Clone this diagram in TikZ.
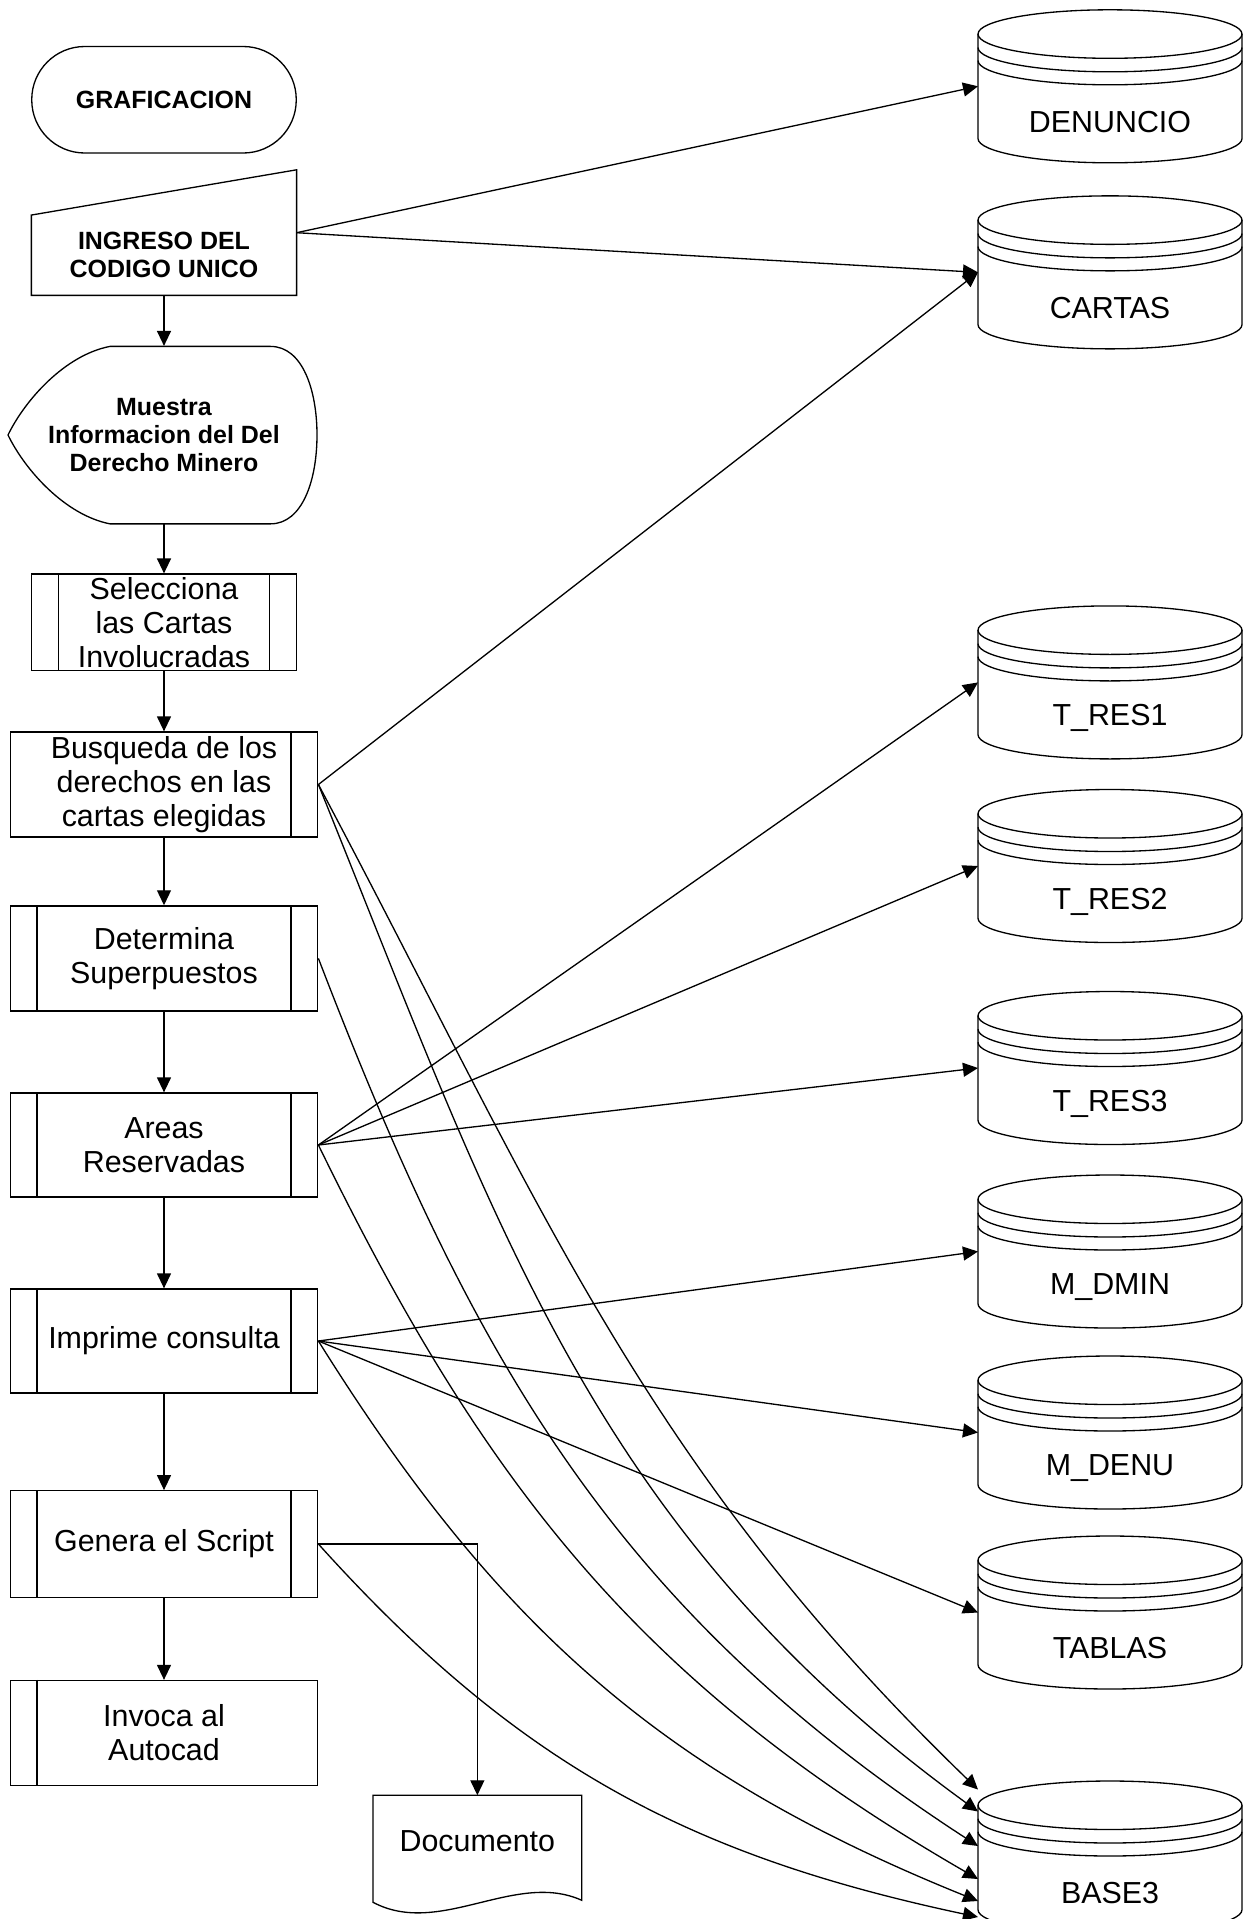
\documentclass[tikz,border=0pt]{standalone}
\usepackage{fontspec}
\setmainfont{Liberation Sans}
\usetikzlibrary{arrows.meta}

\newcommand{\letra}{\fontsize{17.3}{19.3}\selectfont}
\newcommand{\letrab}{\fontsize{14.2}{16}\selectfont\bfseries}

\tikzset{
  linea/.style={line width=0.75pt},
  flecha/.style={linea, -{Triangle[length=0.3cm, width=0.28cm]}},
  proceso/.style={draw, linea, minimum width=6.15cm, minimum height=2.1cm, align=center, font=\letra, inner sep=0pt},
  dbox/.style={minimum width=5.28cm, minimum height=3.06cm, anchor=north, inner sep=0pt, outer sep=0pt}
}

\newcommand{\basedatos}[4]{%
  \node[dbox] (#1) at (#2,#3) {};
  \draw[linea] ([yshift=-0.485cm]#1.north west) -- ([yshift=0.485cm]#1.south west)
    arc[start angle=180, end angle=360, x radius=2.64cm, y radius=0.485cm]
    -- ([yshift=-0.485cm]#1.north east);
  \draw[linea] ([yshift=-0.485cm]#1.north) ellipse[x radius=2.64cm, y radius=0.485cm];
  \draw[linea] ([yshift=-0.755cm]#1.north west) arc[start angle=180, end angle=360, x radius=2.64cm, y radius=0.485cm];
  \draw[linea] ([yshift=-1.015cm]#1.north west) arc[start angle=180, end angle=360, x radius=2.64cm, y radius=0.485cm];
  \node[font=\letra] (#1-t) at ([yshift=-2.24cm]#1.north) {#4};
}

\begin{document}
\begin{tikzpicture}
  \useasboundingbox (0,0) rectangle (24.9,-38.38);
  \clip (0,0) rectangle (24.9,-38.38);

  \node[draw, linea, rounded corners=1.06cm, minimum width=5.29cm, minimum height=2.13cm, font=\letrab] (graf) at (3.28,-1.995) {GRAFICACION};

  \node[minimum width=5.29cm, minimum height=1.592cm, align=center, font=\letrab, inner sep=0pt] (ing) at (3.28,-5.104) {INGRESO DEL\\CODIGO UNICO};
  \draw[linea] (ing.north west) -- ([yshift=0.905cm]ing.north east) -- (ing.south east) -- (ing.south west) -- cycle;

  \node[minimum width=6.17cm, minimum height=3.55cm, align=center, font=\letrab, inner sep=0pt] (mue) at (3.28,-8.70) {Muestra\\Informacion del Del\\Derecho Minero};
  \draw[linea] (2.2,-6.928) -- (5.41,-6.928) .. controls (6.05,-6.928) and (6.34,-7.8) .. (6.34,-8.70)
    .. controls (6.34,-9.6) and (6.05,-10.477) .. (5.41,-10.477) -- (2.2,-10.477)
    .. controls (1.3,-10.3) and (0.5,-9.4) .. (0.16,-8.70)
    .. controls (0.5,-8.0) and (1.3,-7.1) .. (2.2,-6.928) -- cycle;

  \node[proceso, minimum width=5.29cm, minimum height=1.934cm] (sel) at (3.28,-12.448) {Selecciona\\las Cartas\\Involucradas};
  \node[proceso] (bus) at (3.28,-15.69) {Busqueda de los\\derechos en las\\cartas elegidas};
  \node[proceso] (det) at (3.28,-19.168) {Determina\\Superpuestos};
  \node[proceso, minimum height=2.08cm] (are) at (3.28,-22.9) {Areas\\Reservadas};
  \node[proceso, minimum height=2.08cm] (imp) at (3.28,-26.82) {Imprime consulta};
  \node[proceso, minimum height=2.13cm] (gen) at (3.28,-30.88) {Genera el Script};
  \node[proceso] (inv) at (3.28,-34.66) {Invoca al\\Autocad};

  \foreach \n in {sel,det,are,imp,gen,inv}
    \draw[linea] ([xshift=0.55cm]\n.north west) -- ([xshift=0.55cm]\n.south west);
  \foreach \n in {sel,bus,det,are,imp,gen}
    \draw[linea] ([xshift=-0.55cm]\n.north east) -- ([xshift=-0.55cm]\n.south east);

  \node[minimum width=4.16cm, minimum height=1.816cm, font=\letra, inner sep=0pt] (doc) at (9.547,-36.82) {Documento};
  \draw[linea] (doc.north west) -- (doc.north east) -- ([yshift=-0.27cm]doc.south east)
    .. controls +(-1.33,0.6) and +(1.33,-0.71) .. ([yshift=-0.31cm]doc.south west) -- cycle;

  \basedatos{den}{22.2}{-0.196}{DENUNCIO}
  \basedatos{car}{22.2}{-3.917}{CARTAS}
  \basedatos{tr1}{22.2}{-12.118}{T\_RES1}
  \basedatos{tr2}{22.2}{-15.79}{T\_RES2}
  \basedatos{tr3}{22.2}{-19.83}{T\_RES3}
  \basedatos{mdm}{22.2}{-23.50}{M\_DMIN}
  \basedatos{mde}{22.2}{-27.12}{M\_DENU}
  \basedatos{tab}{22.2}{-30.72}{TABLAS}
  \basedatos{b3}{22.2}{-35.62}{BASE3}

  \draw[flecha] (ing.south) -- (mue.north);
  \draw[flecha] (mue.south) -- (sel.north);
  \draw[flecha] (sel.south) -- (bus.north);
  \draw[flecha] (bus.south) -- (det.north);
  \draw[flecha] (det.south) -- (are.north);
  \draw[flecha] (are.south) -- (imp.north);
  \draw[flecha] (imp.south) -- (gen.north);
  \draw[flecha] (gen.south) -- (inv.north);
  \draw[flecha] (gen.east) -| (doc.north);

  \draw[flecha] ([yshift=0.45cm]ing.east) -- (den.west);
  \draw[flecha] ([yshift=0.45cm]ing.east) -- (car.west);
  \draw[flecha] (bus.east) -- (car.west);
  \draw[flecha] (are.east) -- (tr1.west);
  \draw[flecha] (are.east) -- (tr2.west);
  \draw[flecha] (are.east) -- (tr3.west);
  \draw[flecha] (imp.east) -- (mdm.west);
  \draw[flecha] (imp.east) -- (mde.west);
  \draw[flecha] (imp.east) -- (tab.west);

  \draw[flecha] (bus.east) to[out=-62, in=136] ([yshift=-0.17cm]b3.north west);
  \draw[flecha] (bus.east) to[out=-68, in=144] ([yshift=-0.61cm]b3.north west);
  \draw[flecha] (det.east) to[out=-69, in=147] ([yshift=-1.30cm]b3.north west);
  \draw[flecha] (are.east) to[out=-64, in=150] ([yshift=-1.96cm]b3.north west);
  \draw[flecha] (imp.east) to[out=-58, in=158] ([yshift=-2.40cm]b3.north west);
  \draw[flecha] (gen.east) to[out=-48, in=168] ([yshift=-2.72cm]b3.north west);
\end{tikzpicture}
\end{document}
